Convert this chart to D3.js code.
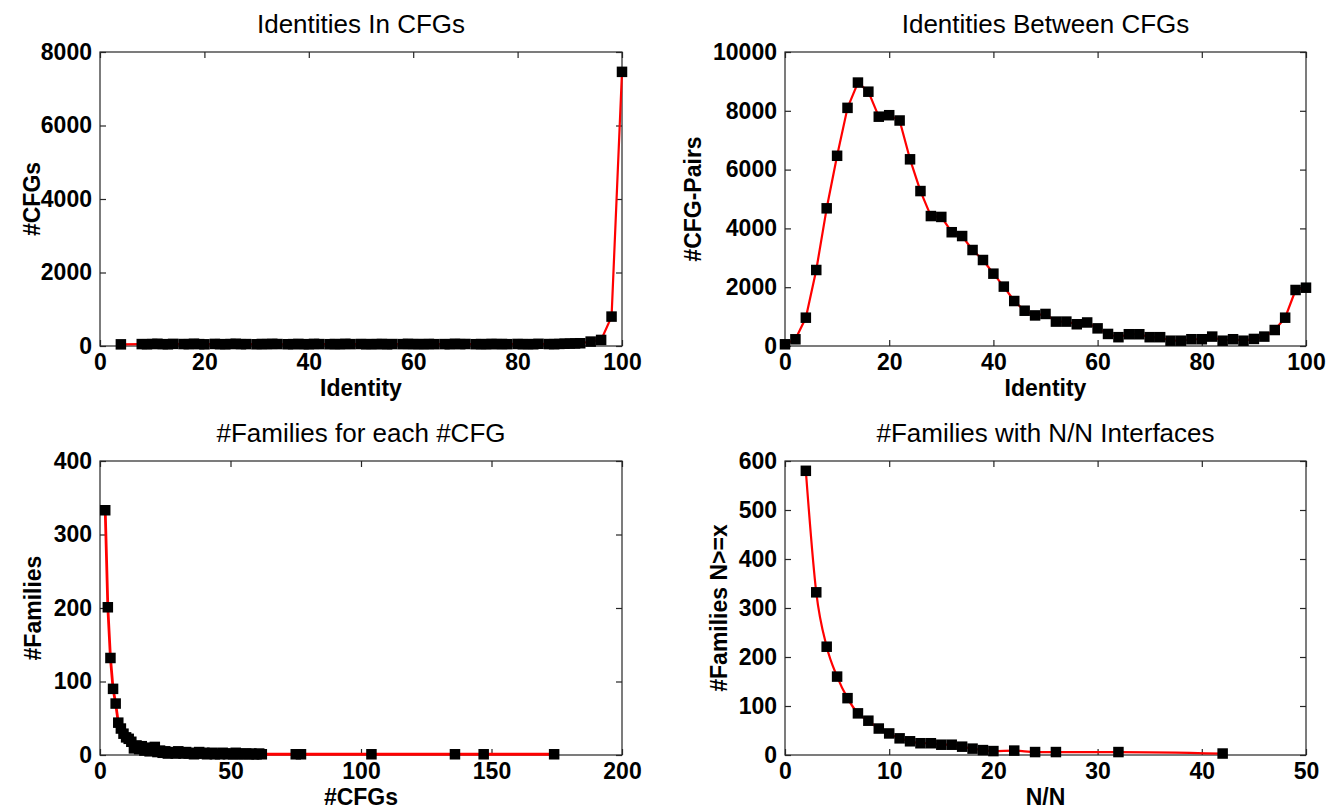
<!DOCTYPE html>
<html>
<head>
<meta charset="utf-8">
<script src="https://cdn.jsdelivr.net/npm/d3@7"></script>
<style>
  html, body { margin: 0; padding: 0; background: #fff; }
  svg { display: block; }
  text { font-family: "Liberation Sans", Arial, Helvetica, sans-serif; fill: #000; }
</style>
</head>
<body>
<svg id="chart" width="1330" height="810"></svg>
<script>
// ---- Identities within CFGs ----
const identInX = [4,
  8, 9, 10, 11, 12, 13, 14,
  16, 17, 18, 19, 20,
  22, 23, 24, 25, 26, 27, 28,
  30, 31, 32, 33, 34,
  36, 37, 38, 39, 40, 41, 42,
  44, 45, 46, 47, 48,
  50, 51, 52, 53, 54, 55, 56,
  58, 59, 60, 61, 62, 63, 64,
  66, 67, 68, 69, 70,
  72, 73, 74, 75, 76, 77, 78,
  80, 81, 82, 83, 84,
  86, 87, 88, 89, 90, 91, 92,
  94, 96, 98, 100];
const identInCount = [45,
  52, 48, 55, 60, 50, 47, 58,
  53, 49, 62, 51, 46,
  57, 50, 48, 54, 61, 49, 52,
  47, 55, 50, 59, 53,
  48, 51, 56, 50, 46, 58, 52,
  49, 54, 47, 60, 51,
  55, 48, 52, 50, 57, 46, 53,
  51, 59, 49, 54, 47, 56, 50,
  52, 48, 61, 50, 55,
  49, 53, 47, 58, 51, 54, 50,
  56, 49, 52, 48, 60,
  53, 50, 57, 62, 66, 70, 75,
  120, 165, 800, 7460];

// ---- Identities between CFG pairs ----
const identBetweenX = [0, 2, 4, 6, 8, 10, 12, 14, 16, 18, 20, 22, 24, 26, 28, 30, 32, 34, 36, 38, 40,
  42, 44, 46, 48, 50, 52, 54, 56, 58, 60, 62, 64, 66, 68, 70, 72, 74, 76, 78, 80,
  82, 84, 86, 88, 90, 92, 94, 96, 98, 100];
const identBetweenPairs = [58, 228, 963, 2585, 4683, 6470, 8100, 8960, 8650, 7800, 7850, 7670, 6350, 5270, 4420, 4390, 3870, 3740, 3265, 2925, 2460,
  2020, 1530, 1200, 1040, 1090, 830, 830, 740, 800, 600, 410, 300, 400, 400, 300, 300, 180, 180, 230, 230,
  320, 180, 230, 180, 240, 320, 544, 963, 1905, 1983];

// ---- Families per CFG count ----
const familyCfgs = [2, 3, 4, 5, 6, 7, 8, 9, 10, 11, 12, 13, 14, 15, 16, 17, 18, 19, 20, 21,
  22, 23, 24, 25, 26, 27, 28, 29, 30, 31, 32, 33, 34, 35, 36, 37, 38, 39, 40, 41,
  42, 43, 44, 45, 46, 47, 48, 49, 50, 51, 52, 53, 54, 55, 56, 57, 58, 59, 60, 61,
  62, 75, 77, 104, 136, 147, 174];
const familyCount = [333, 201, 132, 90, 70, 44, 36, 29, 24, 22, 18, 9, 13, 8, 12, 6, 10, 5, 7, 11,
  4, 6, 3, 5, 2, 4, 3, 2, 5, 3, 2, 4, 2, 3, 1, 2, 4, 2, 3, 1,
  2, 3, 1, 2, 1, 3, 2, 1, 2, 1, 3, 1, 2, 1, 2, 1, 2, 1, 1, 2,
  1, 1, 1, 1, 1, 1, 1];

// ---- Families with at least N/N interfaces ----
const interfaceN = [2, 3, 4, 5, 6, 7, 8, 9, 10, 11, 12, 13, 14, 15, 16, 17, 18, 19, 20, 22, 24, 26, 32, 42];
const interfaceFamilies = [580, 332, 221, 160, 116, 85, 70, 54, 44, 34, 28, 24, 24, 21, 21, 17, 13, 10, 8, 9, 6, 6, 6, 3];

// ---- Axis ticks ----
const ticksIdentity = [0, 20, 40, 60, 80, 100];
const ticksCfgCount = [0, 2000, 4000, 6000, 8000];
const ticksPairCount = [0, 2000, 4000, 6000, 8000, 10000];
const ticksCfgs = [0, 50, 100, 150, 200];
const ticksFamilies = [0, 100, 200, 300, 400];
const ticksNN = [0, 10, 20, 30, 40, 50];
const ticksFamiliesN = [0, 100, 200, 300, 400, 500, 600];

const panels = [
  { title: "Identities In CFGs", xLabel: "Identity", yLabel: "#CFGs",
    xs: identInX, ys: identInCount, xTicks: ticksIdentity, yTicks: ticksCfgCount,
    box: { left: 100, right: 622, top: 52, bottom: 346 }, yLabelX: 40, lineWidth: 2.2, curve: d3.curveLinear },
  { title: "Identities Between CFGs", xLabel: "Identity", yLabel: "#CFG-Pairs",
    xs: identBetweenX, ys: identBetweenPairs, xTicks: ticksIdentity, yTicks: ticksPairCount,
    box: { left: 785, right: 1306, top: 52, bottom: 346 }, yLabelX: 701, lineWidth: 2.2, curve: d3.curveLinear },
  { title: "#Families for each #CFG", xLabel: "#CFGs", yLabel: "#Families",
    xs: familyCfgs, ys: familyCount, xTicks: ticksCfgs, yTicks: ticksFamilies,
    box: { left: 100, right: 622, top: 461, bottom: 755 }, yLabelX: 41, lineWidth: 2.8, curve: d3.curveLinear },
  { title: "#Families with N/N Interfaces", xLabel: "N/N", yLabel: "#Families N>=x",
    xs: interfaceN, ys: interfaceFamilies, xTicks: ticksNN, yTicks: ticksFamiliesN,
    box: { left: 785, right: 1306, top: 461, bottom: 755 }, yLabelX: 727, lineWidth: 2.2, curve: d3.curveMonotoneX }
];

const svg = d3.select("#chart");
svg.append("rect").attr("width", 1330).attr("height", 810).attr("fill", "#fff");

const axisColor = "#262626";
const tickLen = 6;
const marker = 10.5;

panels.forEach(p => {
  const b = p.box;
  const x = d3.scaleLinear()
    .domain([p.xTicks[0], p.xTicks[p.xTicks.length - 1]])
    .range([b.left, b.right]);
  const y = d3.scaleLinear()
    .domain([p.yTicks[0], p.yTicks[p.yTicks.length - 1]])
    .range([b.bottom, b.top]);
  const g = svg.append("g");

  // frame
  g.append("rect")
    .attr("x", b.left).attr("y", b.top)
    .attr("width", b.right - b.left).attr("height", b.bottom - b.top)
    .attr("fill", "none").attr("stroke", axisColor).attr("stroke-width", 1.2);

  const styleAxis = sel => {
    sel.select(".domain").remove();
    sel.selectAll(".tick line").attr("stroke", axisColor).attr("stroke-width", 1.2);
    sel.selectAll(".tick text")
      .attr("fill", "#000")
      .style("font-size", "23px")
      .style("font-weight", "bold")
      .style("font-family", '"Liberation Sans", Arial, sans-serif');
  };

  g.append("g").attr("transform", `translate(0,${b.bottom})`)
    .call(d3.axisBottom(x).tickValues(p.xTicks).tickFormat(d3.format("d"))
      .tickSizeInner(-tickLen).tickSizeOuter(0).tickPadding(8))
    .call(styleAxis);
  g.append("g").attr("transform", `translate(0,${b.top})`)
    .call(d3.axisTop(x).tickValues(p.xTicks).tickFormat("")
      .tickSizeInner(-tickLen).tickSizeOuter(0))
    .call(styleAxis);
  g.append("g").attr("transform", `translate(${b.left},0)`)
    .call(d3.axisLeft(y).tickValues(p.yTicks).tickFormat(d3.format("d"))
      .tickSizeInner(-tickLen).tickSizeOuter(0).tickPadding(8))
    .call(styleAxis);
  g.append("g").attr("transform", `translate(${b.right},0)`)
    .call(d3.axisRight(y).tickValues(p.yTicks).tickFormat("")
      .tickSizeInner(-tickLen).tickSizeOuter(0))
    .call(styleAxis);

  const pts = p.xs.map((v, i) => [v, p.ys[i]]);

  // red connecting line
  g.append("path")
    .datum(pts)
    .attr("fill", "none")
    .attr("stroke", "#ff0000")
    .attr("stroke-width", p.lineWidth)
    .attr("stroke-linejoin", "round")
    .attr("d", d3.line().x(d => x(d[0])).y(d => y(d[1])).curve(p.curve));

  // square markers
  g.selectAll("rect.pt")
    .data(pts)
    .join("rect")
    .attr("class", "pt")
    .attr("x", d => x(d[0]) - marker / 2)
    .attr("y", d => y(d[1]) - marker / 2)
    .attr("width", marker).attr("height", marker)
    .attr("fill", "#000");

  // title
  g.append("text")
    .attr("x", (b.left + b.right) / 2)
    .attr("y", b.top - 19)
    .attr("text-anchor", "middle")
    .style("font-size", "26px")
    .text(p.title);

  // x label
  g.append("text")
    .attr("x", (b.left + b.right) / 2)
    .attr("y", b.bottom + 50)
    .attr("text-anchor", "middle")
    .style("font-size", "23px")
    .style("font-weight", "bold")
    .text(p.xLabel);

  // y label
  g.append("text")
    .attr("transform", `translate(${p.yLabelX},${(b.top + b.bottom) / 2}) rotate(-90)`)
    .attr("text-anchor", "middle")
    .style("font-size", "23px")
    .style("font-weight", "bold")
    .text(p.yLabel);
});
</script>
</body>
</html>
